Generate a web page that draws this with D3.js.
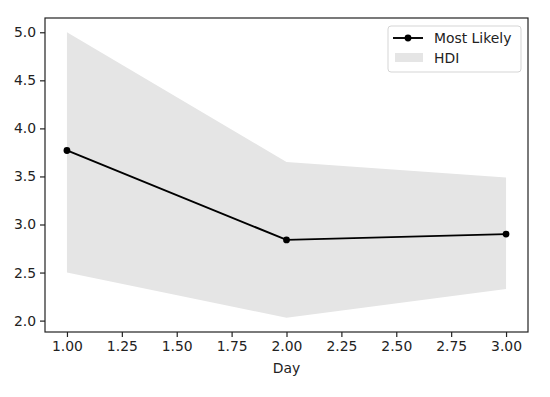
<!DOCTYPE html>
<html>
<head>
<meta charset="utf-8">
<script src="https://cdn.jsdelivr.net/npm/d3@7"></script>
<style>
  body { margin: 0; background: #fff; }
  svg { font-family: 'DejaVu Sans', sans-serif; }
</style>
</head>
<body>
<svg id="chart"></svg>
<script>
const days = [1, 2, 3]
const mostLikely = [3.77, 2.84, 2.9]
const hdiLow = [2.5, 2.03, 2.33]
const hdiHigh = [5.0, 3.65, 3.49]
const xTicks = [1.0, 1.25, 1.5, 1.75, 2.0, 2.25, 2.5, 2.75, 3.0]
const yTicks = [2.0, 2.5, 3.0, 3.5, 4.0, 4.5, 5.0]

const width = 550
const height = 397
const margin = { top: 18, right: 22, bottom: 65, left: 45 }
const fontSize = 13.9

const svg = d3.select('#chart')
  .attr('width', width)
  .attr('height', height)

// matplotlib-style 5% padding around data
const x = d3.scaleLinear()
  .domain([0.9, 3.1])
  .range([margin.left, width - margin.right])
const y = d3.scaleLinear()
  .domain([1.8815, 5.1485])
  .range([height - margin.bottom, margin.top])

const pts = days.map((d, i) => ({ day: d, ml: mostLikely[i], lo: hdiLow[i], hi: hdiHigh[i] }))

// HDI band
const area = d3.area()
  .x(d => x(d.day))
  .y0(d => y(d.lo))
  .y1(d => y(d.hi))
svg.append('path')
  .datum(pts)
  .attr('d', area)
  .attr('fill', '#e5e5e5')

// Most likely line
const line = d3.line()
  .x(d => x(d.day))
  .y(d => y(d.ml))
svg.append('path')
  .datum(pts)
  .attr('d', line)
  .attr('fill', 'none')
  .attr('stroke', '#000')
  .attr('stroke-width', 1.9)

svg.selectAll('.dot')
  .data(pts)
  .enter()
  .append('circle')
  .attr('class', 'dot')
  .attr('cx', d => x(d.day))
  .attr('cy', d => y(d.ml))
  .attr('r', 3.4)
  .attr('fill', '#000')

// Axes
const xAxis = svg.append('g')
  .attr('transform', `translate(0,${height - margin.bottom})`)
  .call(d3.axisBottom(x).tickValues(xTicks).tickFormat(d3.format('.2f')).tickSize(5).tickPadding(4))
const yAxis = svg.append('g')
  .attr('transform', `translate(${margin.left},0)`)
  .call(d3.axisLeft(y).tickValues(yTicks).tickFormat(d3.format('.1f')).tickSize(5).tickPadding(4))

for (const ax of [xAxis, yAxis]) {
  ax.select('.domain').remove()
  ax.selectAll('text').attr('font-size', fontSize).attr('fill', '#222').attr('font-family', 'DejaVu Sans')
  ax.selectAll('line').attr('stroke', '#222').attr('stroke-width', 1.2)
}

// Frame
svg.append('rect')
  .attr('x', margin.left)
  .attr('y', margin.top)
  .attr('width', width - margin.left - margin.right)
  .attr('height', height - margin.top - margin.bottom)
  .attr('fill', 'none')
  .attr('stroke', '#222')
  .attr('stroke-width', 1.2)

svg.append('text')
  .attr('x', x(2))
  .attr('y', 373)
  .attr('text-anchor', 'middle')
  .attr('font-size', fontSize)
  .attr('fill', '#222')
  .text('Day')

// Legend
const legend = svg.append('g').attr('transform', 'translate(388,26)')
legend.append('rect')
  .attr('width', 133)
  .attr('height', 46)
  .attr('rx', 3)
  .attr('fill', '#fff')
  .attr('fill-opacity', 0.8)
  .attr('stroke', '#d5d5d5')
legend.append('line')
  .attr('x1', 5).attr('x2', 35)
  .attr('y1', 12).attr('y2', 12)
  .attr('stroke', '#000').attr('stroke-width', 1.9)
legend.append('circle')
  .attr('cx', 20).attr('cy', 12).attr('r', 3.4).attr('fill', '#000')
legend.append('text')
  .attr('x', 46).attr('y', 17)
  .attr('font-size', fontSize).attr('fill', '#222')
  .text('Most Likely')
legend.append('rect')
  .attr('x', 7).attr('y', 27).attr('width', 28).attr('height', 9)
  .attr('fill', '#e5e5e5')
legend.append('text')
  .attr('x', 46).attr('y', 37)
  .attr('font-size', fontSize).attr('fill', '#222')
  .text('HDI')
</script>
</body>
</html>
